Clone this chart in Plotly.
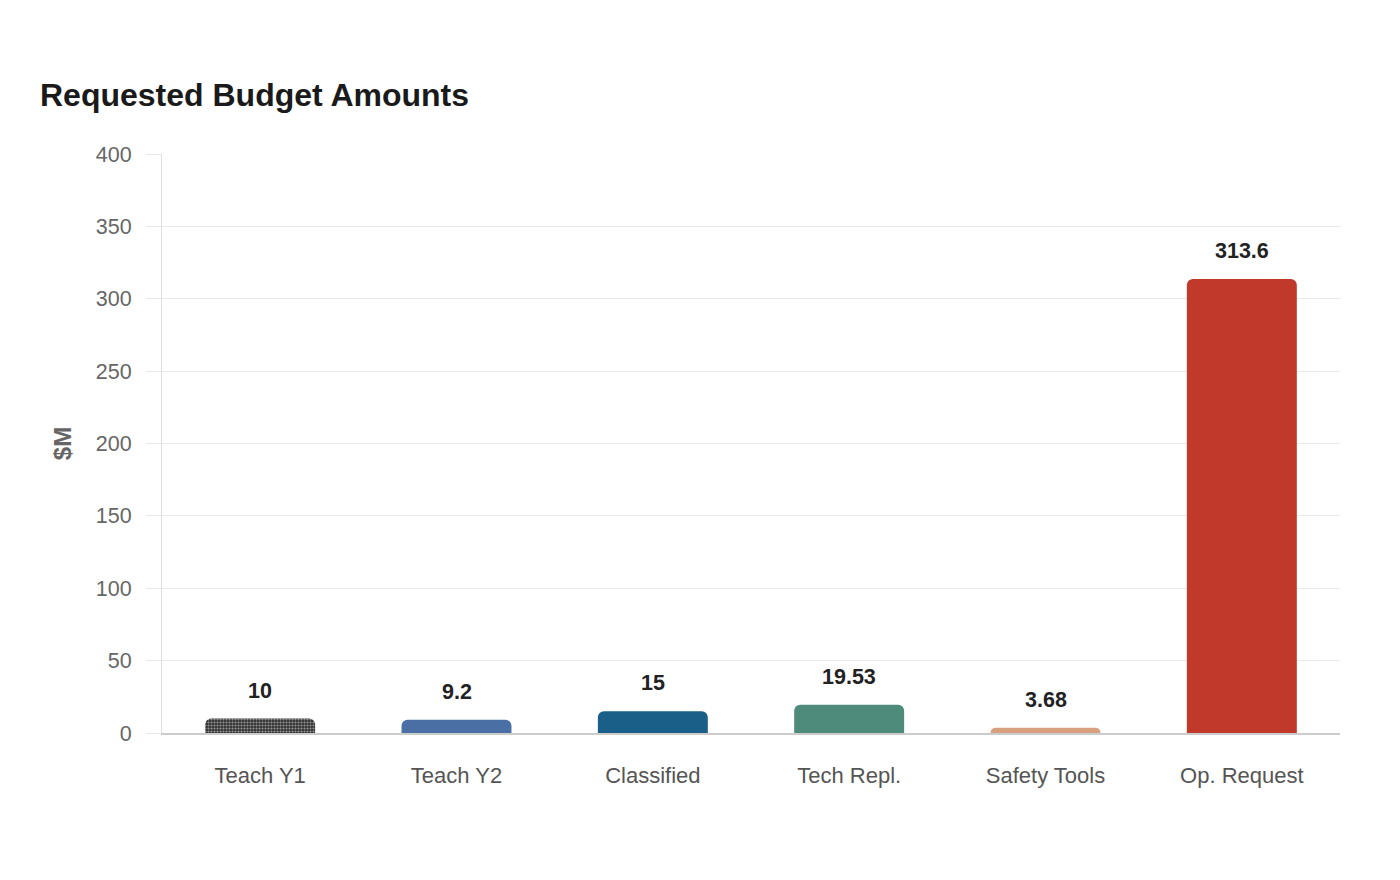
import plotly.graph_objects as go

categories = ["Teach Y1", "Teach Y2", "Classified", "Tech Repl.", "Safety Tools", "Op. Request"]
values = [10, 9.2, 15, 19.53, 3.68, 313.6]
value_labels = ["10", "9.2", "15", "19.53", "3.68", "313.6"]
colors = ["#303030", "#4a6fa5", "#1a5f88", "#4e8b7a", "#d9a07f", "#c0392b"]
y_ticks = [0, 50, 100, 150, 200, 250, 300, 350, 400]

FONT = "Liberation Sans, Arial, sans-serif"

fig = go.Figure()
fig.add_trace(go.Bar(
    x=categories,
    y=values,
    marker=dict(
        color=colors,
        cornerradius=6,
        line=dict(width=0),
        pattern=dict(shape=[".", "", "", "", "", ""], fgcolor="#151515", size=3, solidity=0.4),
    ),
    width=0.56,
    hoverinfo="skip",
))

for c, v, t in zip(categories, values, value_labels):
    fig.add_annotation(
        x=c, y=v, text=f"<b>{t}</b>", showarrow=False,
        yanchor="bottom", yshift=14,
        font=dict(family=FONT, size=21.5, color="#222222"),
    )

fig.update_layout(
    width=1400, height=880,
    paper_bgcolor="white", plot_bgcolor="white",
    margin=dict(l=162, r=60, t=154, b=147),
    title=dict(text="<b>Requested Budget Amounts</b>", x=40/1400, xanchor="left",
               y=1-95/880, yanchor="middle",
               font=dict(family=FONT, size=32, color="#1a1a1a")),
    showlegend=False,
    font=dict(family=FONT),
)
fig.update_yaxes(
    range=[0, 400], tickvals=y_ticks,
    showgrid=True, gridcolor="#e8e8e8", gridwidth=1,
    showline=True, linecolor="#e0e0e0", linewidth=1,
    ticks="outside", ticklen=15, tickcolor="#e8e8e8", tickwidth=1,
    ticklabelstandoff=10,
    tickfont=dict(family=FONT, size=21.5, color="#666666"),
    zeroline=False,
    title=dict(text="<b>$M</b>", font=dict(family=FONT, size=24, color="#666666"), standoff=17),
)
fig.update_xaxes(
    showline=True, linecolor="#cccccc", linewidth=2,
    tickfont=dict(family=FONT, size=22, color="#555555"),
    ticks="", ticklabelstandoff=22,
)

fig.write_html("out.html")
